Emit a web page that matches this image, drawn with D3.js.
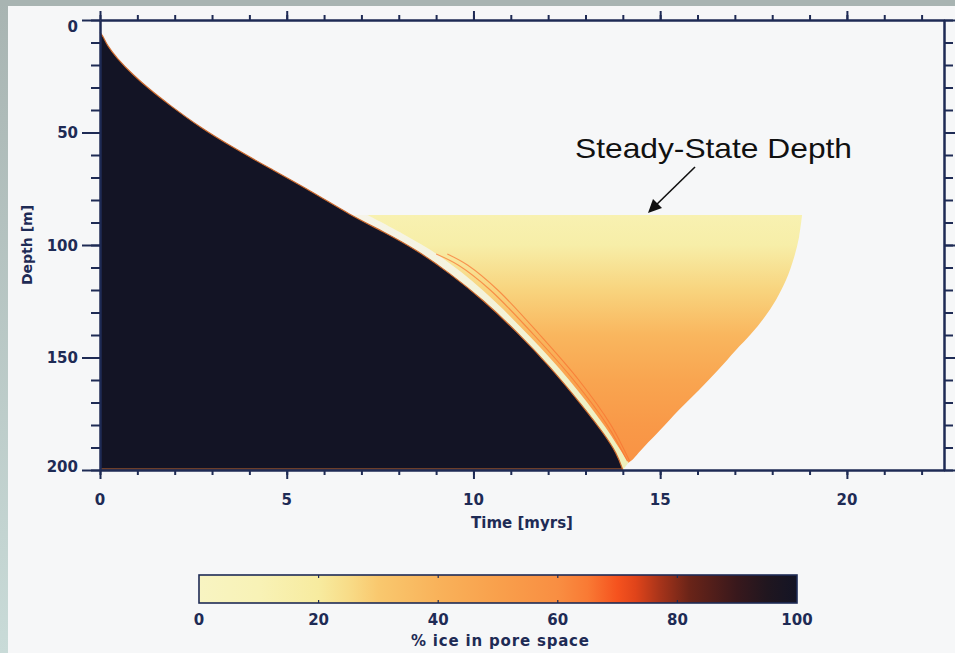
<!DOCTYPE html>
<html>
<head>
<meta charset="utf-8">
<script src="https://cdn.jsdelivr.net/npm/d3@7"></script>
<style>
  html, body { margin: 0; padding: 0; background: #f6f7f8; }
  svg { display: block; }
</style>
</head>
<body>
<svg id="chart" width="955" height="653"></svg>
<script>
// ---------------- data ----------------
const timeTicks  = [0, 5, 10, 15, 20];
const depthTicks = [0, 50, 100, 150, 200];
const iceTicks   = [0, 20, 40, 60, 80, 100];

// freezing front: fully frozen (100 % ice) below/left of this curve
const frontTime  = [0, 0.09, 0.18, 0.45, 0.89, 1.34, 1.8, 2.7, 3.6, 4.5, 5.7, 6.68, 7.58, 8.48, 9.37, 10.26, 11.16, 12.05, 12.94, 13.5, 13.84, 14.0];
const frontDepth = [5.5, 7.4, 11, 17, 24.5, 31, 37, 48, 57, 65.5, 76.5, 86.5, 94, 102.2, 112.6, 124.4, 138.5, 154, 171.9, 184, 192.6, 200];

// steady-state zone: top at the steady-state depth, left and right edges
const steadyDepth = 86.7;
const zoneLeftTime   = [7.16, 8.1, 9.1, 10.24, 11.47, 12.56, 13.49, 14.15];
const zoneLeftDepth  = [86.7, 95, 105, 120, 140, 160, 180, 196.8];
const zoneRightTime  = [18.80, 18.72, 18.58, 18.37, 18.10, 17.78, 17.43, 17.03, 16.55, 16.04, 15.50, 15.00, 14.59, 14.25];
const zoneRightDepth = [86.7, 96.4, 105.8, 115.6, 124.4, 132.4, 139.6, 146.7, 155.6, 164.4, 173.3, 182.2, 189.3, 195.6];

// thin re-freezing streaks just inside the zone's left edge
const streakATime  = [9.0, 9.6, 10.45, 11.62, 12.68, 13.58, 14.12];
const streakADepth = [104, 109, 120, 140, 160, 180, 196];
const streakBTime  = [9.3, 9.85, 10.65, 11.78, 12.82, 13.68, 14.18];
const streakBDepth = [104, 109, 120, 140, 160, 180, 196];

// ice content of the steady-state zone versus depth
const profileDepth = [86.7, 100, 120, 140, 160, 180, 198];
const profileIce   = [12, 16, 27, 38, 47, 54, 58];

// thawed gap between the front and the zone
const gapDepth  = [86.7, 196];
const gapColors = ["#f6f4e8", "#eef0bc"];

// colour table (% ice -> colour)
const cmapValues = [0, 10, 20, 25, 30, 40, 50, 60, 65, 70, 73, 77, 82, 90, 95, 100];
const cmapColors = ["#f8f4c2", "#f8f2b6", "#f7eb9f", "#f8dc88", "#f9c86e", "#f9b25a", "#f9a04c", "#f98e42",
                    "#f97a34", "#f5521e", "#e0441a", "#a8341a", "#6a2418", "#38181c", "#20161f", "#131425"];

// ---------------- setup ----------------
const W = 955, H = 653;
const navy = "#1e2b55";
const svg = d3.select("#chart");
const defs = svg.append("defs");

const x = d3.scaleLinear().domain([0, 22.6]).range([100, 944]);
const y = d3.scaleLinear().domain([0, 200]).range([20, 470]);
const cmap = d3.scaleLinear().domain(cmapValues).range(cmapColors).interpolate(d3.interpolateRgb);
const cbx = d3.scaleLinear().domain([0, 100]).range([199, 797]);

// page background + scanner frame on top/left
svg.append("rect").attr("width", W).attr("height", H).attr("fill", "#f6f7f8");
const frameGrad = defs.append("linearGradient").attr("id", "frameGrad")
  .attr("x1", 0).attr("y1", 0).attr("x2", 0).attr("y2", 1);
frameGrad.append("stop").attr("offset", 0).attr("stop-color", "#a8b4b2");
frameGrad.append("stop").attr("offset", 1).attr("stop-color", "#c9dbd8");
svg.append("rect").attr("x", 0).attr("y", 0).attr("width", 8).attr("height", H).attr("fill", "url(#frameGrad)");
svg.append("rect").attr("x", 0).attr("y", 0).attr("width", W).attr("height", 6).attr("fill", "#a8b4b2");

const pts = (ts, ds) => ts.map((t, i) => [x(t), y(ds[i])]);
const smooth = d3.line().curve(d3.curveCatmullRom.alpha(0.5));

// ---------------- field ----------------
// thawed gap between front and steady-state zone (its lower part is covered by frozen ground)
const gapGrad = defs.append("linearGradient").attr("id", "gapGrad")
  .attr("gradientUnits", "userSpaceOnUse")
  .attr("x1", 0).attr("x2", 0).attr("y1", y(gapDepth[0])).attr("y2", y(gapDepth[1]));
gapColors.forEach((c, i) => gapGrad.append("stop").attr("offset", i).attr("stop-color", c));

const leftPts = pts(zoneLeftTime, zoneLeftDepth);
const topFront = [x(6.68), y(steadyDepth)];
svg.append("path")
  .attr("d", "M" + topFront + smooth(leftPts).replace(/^M/, "L")
        + "L" + [x(14.0), y(200)] + "L" + [x(6.68), y(200)] + "Z")
  .attr("fill", "url(#gapGrad)");

// steady-state zone, shaded by ice content with depth
const zoneGrad = defs.append("linearGradient").attr("id", "zoneGrad")
  .attr("gradientUnits", "userSpaceOnUse")
  .attr("x1", 0).attr("x2", 0)
  .attr("y1", y(profileDepth[0])).attr("y2", y(profileDepth[profileDepth.length - 1]));
const d0 = profileDepth[0], d1 = profileDepth[profileDepth.length - 1];
profileDepth.forEach((d, i) => zoneGrad.append("stop")
  .attr("offset", (d - d0) / (d1 - d0))
  .attr("stop-color", cmap(profileIce[i])));

const rightPts = pts(zoneRightTime, zoneRightDepth);
svg.append("path")
  .attr("d", smooth(rightPts) + smooth(leftPts.slice().reverse()).replace(/^M/, "L") + "Z")
  .attr("fill", "url(#zoneGrad)");

// streaks
[[streakATime, streakADepth], [streakBTime, streakBDepth]].forEach(([ts, ds]) => {
  svg.append("path").attr("d", smooth(pts(ts, ds)))
    .attr("fill", "none").attr("stroke", cmap(66)).attr("stroke-width", 1.1).attr("opacity", 0.7);
});

// frozen ground (100 % ice)
const frozen = d3.area()
  .x((d, i) => x(frontTime[i]))
  .y0(y(200))
  .y1((d, i) => y(frontDepth[i]))
  .curve(d3.curveBasis);
svg.append("path").attr("d", frozen(frontTime)).attr("fill", cmap(100));

// front rim and base line
svg.append("path")
  .attr("d", d3.line().x((d, i) => x(frontTime[i])).y((d, i) => y(frontDepth[i])).curve(d3.curveBasis)(frontTime))
  .attr("fill", "none").attr("stroke", "#cc6a2e").attr("stroke-width", 1.2);
svg.append("line")
  .attr("x1", x(0)).attr("x2", x(frontTime[frontTime.length - 1]))
  .attr("y1", y(200) - 1).attr("y2", y(200) - 1)
  .attr("stroke", "#c86a30").attr("stroke-width", 1);

// ---------------- axes ----------------
function styleAxis(g) {
  g.select(".domain").attr("stroke", navy).attr("stroke-width", 2);
  g.selectAll(".tick line").attr("stroke", navy).attr("stroke-width", 2);
  g.selectAll("text").remove();
}
const minorT = d3.range(0, 23, 1);
const minorD = d3.range(0, 201, 10);

svg.append("g").attr("transform", `translate(0,${y(200)})`)
  .call(d3.axisBottom(x).tickValues(minorT).tickSize(5).tickSizeOuter(0)).call(styleAxis);
svg.append("g").attr("transform", `translate(0,${y(200)})`)
  .call(d3.axisBottom(x).tickValues(timeTicks).tickSize(9).tickSizeOuter(0)).call(styleAxis);
svg.append("g").attr("transform", `translate(0,${y(0)})`)
  .call(d3.axisTop(x).tickValues(minorT).tickSize(5).tickSizeOuter(0)).call(styleAxis);
svg.append("g").attr("transform", `translate(0,${y(0)})`)
  .call(d3.axisTop(x).tickValues(timeTicks).tickSize(9).tickSizeOuter(0)).call(styleAxis);
svg.append("g").attr("transform", `translate(${x(0)},0)`)
  .call(d3.axisLeft(y).tickValues(minorD).tickSize(9).tickSizeOuter(0)).call(styleAxis);
svg.append("g").attr("transform", `translate(${x(0)},0)`)
  .call(d3.axisLeft(y).tickValues(depthTicks).tickSize(18).tickSizeOuter(0)).call(styleAxis);
svg.append("g").attr("transform", `translate(${x.range()[1]},0)`)
  .call(d3.axisRight(y).tickValues(minorD).tickSize(9).tickSizeOuter(0)).call(styleAxis);
svg.append("g").attr("transform", `translate(${x.range()[1]},0)`)
  .call(d3.axisRight(y).tickValues(depthTicks).tickSize(18).tickSizeOuter(0)).call(styleAxis);

const font = "'DejaVu Sans', Verdana, sans-serif";
const label = (sel) => sel.attr("font-family", font).attr("font-weight", "bold")
  .attr("font-size", 15).attr("fill", navy);

svg.append("g").selectAll("text").data(timeTicks).join("text")
  .attr("x", d => x(d)).attr("y", 505).attr("text-anchor", "middle").call(label).text(d => d);
svg.append("g").selectAll("text").data(depthTicks).join("text")
  .attr("x", 78).attr("y", d => Math.min(Math.max(y(d), 26), 466) + 5.5)
  .attr("text-anchor", "end").call(label).text(d => d);

svg.append("text").attr("x", 522).attr("y", 528).attr("text-anchor", "middle")
  .call(label).text("Time [myrs]");
svg.append("text").attr("transform", "translate(32,245) rotate(-90)").attr("text-anchor", "middle")
  .call(label).attr("font-size", 14).text("Depth [m]");

// ---------------- annotation ----------------
svg.append("line")
  .attr("x1", 695).attr("y1", 167).attr("x2", 652).attr("y2", 209)
  .attr("stroke", "#111").attr("stroke-width", 1.6);
svg.append("path")
  .attr("d", "M648,213 L653,199 L662,208 Z").attr("fill", "#111");
svg.append("text").attr("x", 575).attr("y", 158)
  .attr("font-family", "'Liberation Sans', Arial, sans-serif").attr("font-size", 28)
  .attr("textLength", 277).attr("lengthAdjust", "spacingAndGlyphs")
  .attr("fill", "#111").text("Steady-State Depth");

// ---------------- colour bar ----------------
const cbGrad = defs.append("linearGradient").attr("id", "cbGrad")
  .attr("x1", 0).attr("x2", 1).attr("y1", 0).attr("y2", 0);
cmapValues.forEach((v, i) => cbGrad.append("stop").attr("offset", v / 100).attr("stop-color", cmapColors[i]));
const cbTop = 575, cbBot = 603;
svg.append("rect").attr("x", cbx(0)).attr("y", cbTop).attr("width", cbx(100) - cbx(0)).attr("height", cbBot - cbTop)
  .attr("fill", "url(#cbGrad)").attr("stroke", navy).attr("stroke-width", 1.6);
svg.append("g").selectAll("path").data(iceTicks.slice(1, -1)).join("path")
  .attr("d", d => `M${cbx(d)},${cbTop} v3 M${cbx(d)},${cbBot} v-3`)
  .attr("stroke", navy).attr("stroke-width", 1.2);
svg.append("g").selectAll("text").data(iceTicks).join("text")
  .attr("x", d => cbx(d)).attr("y", 625).attr("text-anchor", "middle").call(label).text(d => d);
svg.append("text").attr("x", 500).attr("y", 646).attr("text-anchor", "middle")
  .call(label).attr("textLength", 178).attr("lengthAdjust", "spacing").text("% ice in pore space");
</script>
</body>
</html>
